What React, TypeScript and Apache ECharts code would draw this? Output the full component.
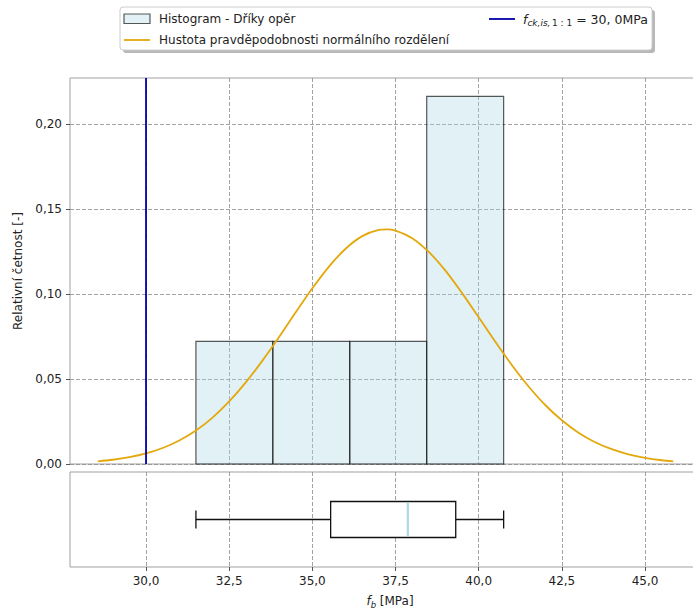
import React, { useEffect, useRef } from 'react';
import * as echarts from 'echarts';

// ---- data ----
const xTicks = [30, 32.5, 35, 37.5, 40, 42.5, 45];
const yTicks = [0, 0.05, 0.1, 0.15, 0.2];
const binEdges = [31.5, 33.8125, 36.125, 38.4375, 40.75];
const binHeights = [0.0721, 0.0721, 0.0721, 0.2162];
const curveX = [28.55, 29.0, 29.5, 30.0, 30.5, 31.0, 31.5, 32.0, 32.5, 33.0, 33.5, 34.0, 34.5, 35.0, 35.5, 36.0, 36.5, 37.0, 37.25, 37.5, 38.0, 38.5, 39.0, 39.5, 40.0, 40.5, 41.0, 41.5, 42.0, 42.5, 43.0, 43.5, 44.0, 44.5, 45.0, 45.5, 45.85];
const curveY = [0.0016, 0.0025, 0.0040, 0.0062, 0.0094, 0.0138, 0.0197, 0.0273, 0.0368, 0.0480, 0.0608, 0.0747, 0.0892, 0.1033, 0.1161, 0.1266, 0.1340, 0.1377, 0.1380, 0.1373, 0.1328, 0.1247, 0.1137, 0.1005, 0.0863, 0.0719, 0.0581, 0.0456, 0.0347, 0.0257, 0.0184, 0.0128, 0.0087, 0.0057, 0.0036, 0.0022, 0.0016];
const fckValue = 30.0;
const boxStats = [31.5, 35.55, 37.87, 39.31, 40.75]; // min, Q1, median, Q3, max

const X_MIN = 27.715;
const X_MAX = 46.953;
const Y_MAX = 0.227;

const FONT = 'DejaVu Sans';
const TXT = '#222';
const SPINE = '#a0a0a0';
const GRIDC = '#8a8a8a';
const fmtComma = (v: number, d: number) => v.toFixed(d).replace('.', ',');

export default function App() {
  const ref = useRef<HTMLDivElement>(null);
  useEffect(() => {
    if (!ref.current) return;
    const chart = echarts.init(ref.current, null, { renderer: 'svg' });
    const histData = binHeights.map((h, i) => [binEdges[i], binEdges[i + 1], h]);
    const curveData = curveX.map((x, i) => [x, curveY[i]]);

    const option: any = {
      animation: false,
      backgroundColor: '#fff',
      textStyle: { fontFamily: FONT },
      grid: [
        { left: 70, top: 78, width: 640, height: 386, outerBoundsMode: 'none', containLabel: false, show: true, borderColor: SPINE, borderWidth: 1, backgroundColor: 'transparent' },
        { left: 70, top: 472, width: 640, height: 95, outerBoundsMode: 'none', containLabel: false, show: true, borderColor: SPINE, borderWidth: 1, backgroundColor: 'transparent' },
      ],
      xAxis: [
        {
          type: 'value', gridIndex: 0, min: X_MIN, max: X_MAX,
          axisLine: { show: false },
          axisTick: { show: false, customValues: xTicks },
          axisLabel: { show: false, customValues: xTicks },
          splitLine: { show: true, lineStyle: { color: GRIDC, type: [4, 2], width: 0.8 } },
        },
        {
          type: 'value', gridIndex: 1, min: X_MIN, max: X_MAX,
          axisLine: { show: false },
          axisTick: { show: true, customValues: xTicks, length: 4, lineStyle: { color: '#555' } },
          axisLabel: { show: true, customValues: xTicks, margin: 8, color: TXT, fontSize: 12, fontFamily: FONT, formatter: (v: number) => fmtComma(v, 1) },
          splitLine: { show: true, lineStyle: { color: GRIDC, type: [4, 2], width: 0.8 } },
          name: '{i|f}{s|b} [MPa]',
          nameLocation: 'middle',
          nameGap: 26,
          nameTextStyle: {
            color: TXT, fontSize: 12, fontFamily: FONT,
            rich: {
              i: { fontStyle: 'italic', fontSize: 12, fontFamily: FONT, color: TXT },
              s: { fontStyle: 'italic', fontSize: 8.5, fontFamily: FONT, color: TXT, padding: [7, 0, 0, 0] },
            },
          },
        },
      ],
      yAxis: [
        {
          type: 'value', gridIndex: 0, min: 0, max: Y_MAX,
          axisLine: { show: false },
          axisTick: { show: true, customValues: yTicks, length: 4, lineStyle: { color: '#555' } },
          axisLabel: { show: true, customValues: yTicks, margin: 8, color: TXT, fontSize: 12, fontFamily: FONT, formatter: (v: number) => fmtComma(v, 2) },
          splitLine: { show: true, lineStyle: { color: GRIDC, type: [4, 2], width: 0.8 } },
          name: 'Relativní četnost [-]',
          nameLocation: 'middle',
          nameGap: 42,
          nameTextStyle: { color: TXT, fontSize: 12, fontFamily: FONT },
        },
        {
          type: 'value', gridIndex: 1, min: 0, max: 2,
          axisLine: { show: false }, axisTick: { show: false }, axisLabel: { show: false },
          splitLine: { show: false },
        },
      ],
      series: [
        {
          type: 'custom', name: 'hist', xAxisIndex: 0, yAxisIndex: 0,
          data: histData,
          encode: { x: [0, 1], y: 2 },
          renderItem: (params: any, api: any) => {
            const p0 = api.coord([api.value(0), 0]);
            const p1 = api.coord([api.value(1), api.value(2)]);
            return {
              type: 'rect',
              shape: { x: p0[0], y: p1[1], width: p1[0] - p0[0], height: p0[1] - p1[1] },
              style: { fill: 'rgba(173,216,230,0.35)', stroke: 'rgba(0,0,0,0.65)', lineWidth: 1.2 },
            };
          },
          z: 2,
        },
        {
          type: 'line', name: 'pdf', xAxisIndex: 0, yAxisIndex: 0,
          data: curveData, smooth: 0.3, showSymbol: false, symbol: 'none',
          lineStyle: { color: '#e3a80c', width: 1.8 },
          z: 3,
        },
        {
          type: 'line', name: 'fck', xAxisIndex: 0, yAxisIndex: 0,
          data: [[fckValue, 0], [fckValue, Y_MAX]], showSymbol: false, symbol: 'none',
          lineStyle: { color: '#0000a8', width: 1.8 },
          z: 3,
        },
        {
          type: 'custom', name: 'box', xAxisIndex: 1, yAxisIndex: 1,
          data: [boxStats],
          encode: { x: [0, 1, 2, 3, 4] },
          renderItem: (params: any, api: any) => {
            const c = api.coord([api.value(0), 1]);
            const yc = c[1];
            const xs = [0, 1, 2, 3, 4].map((k) => api.coord([api.value(k), 1])[0]);
            const hh = 18;
            const cap = 9;
            const ls = { stroke: '#111', lineWidth: 1.3, fill: null };
            return {
              type: 'group',
              children: [
                { type: 'line', shape: { x1: xs[0], y1: yc, x2: xs[1], y2: yc }, style: ls },
                { type: 'line', shape: { x1: xs[3], y1: yc, x2: xs[4], y2: yc }, style: ls },
                { type: 'line', shape: { x1: xs[0], y1: yc - cap, x2: xs[0], y2: yc + cap }, style: ls },
                { type: 'line', shape: { x1: xs[4], y1: yc - cap, x2: xs[4], y2: yc + cap }, style: ls },
                { type: 'rect', shape: { x: xs[1], y: yc - hh, width: xs[3] - xs[1], height: 2 * hh }, style: { stroke: '#111', lineWidth: 1.3, fill: '#fff' } },
                { type: 'line', shape: { x1: xs[2], y1: yc - hh + 1, x2: xs[2], y2: yc + hh - 1 }, style: { stroke: '#add8e6', lineWidth: 2.2 } },
              ],
            };
          },
          z: 2,
        },
      ],
      graphic: [
        { type: 'rect', shape: { x: 123, y: 10, width: 532, height: 43, r: 3 }, style: { fill: '#b8b8b8' }, z: 10 },
        { type: 'rect', shape: { x: 120, y: 7, width: 532, height: 43, r: 3 }, style: { fill: '#fff', stroke: '#cccccc', lineWidth: 1 }, z: 11 },
        { type: 'rect', shape: { x: 124, y: 14, width: 26, height: 9.5 }, style: { fill: 'rgba(173,216,230,0.35)', stroke: 'rgba(0,0,0,0.65)', lineWidth: 1.2 }, z: 12 },
        { type: 'text', x: 159, y: 19, style: { text: 'Histogram - Dříky opěr', fill: TXT, font: `12px "${FONT}"`, verticalAlign: 'middle', align: 'left' }, z: 12 },
        { type: 'line', shape: { x1: 124, y1: 40, x2: 150, y2: 40 }, style: { stroke: '#e3a80c', lineWidth: 1.8 }, z: 12 },
        { type: 'text', x: 159, y: 40, style: { text: 'Hustota pravděpodobnosti normálního rozdělení', fill: TXT, font: `12px "${FONT}"`, verticalAlign: 'middle', align: 'left' }, z: 12 },
        { type: 'line', shape: { x1: 489, y1: 19, x2: 515, y2: 19 }, style: { stroke: '#0000a8', lineWidth: 1.8 }, z: 12 },
        {
          type: 'text', x: 523, y: 19,
          style: {
            text: '{f|f}{s|ck,is,}{r|1 : 1}{n| = 30, 0MPa}',
            verticalAlign: 'middle', align: 'left', fill: TXT,
            rich: {
              f: { fontStyle: 'italic', fontSize: 12.5, fontFamily: FONT, fill: TXT },
              s: { fontStyle: 'italic', fontSize: 9, fontFamily: FONT, fill: TXT, padding: [7, 0, 0, 0] },
              r: { fontSize: 9, fontFamily: FONT, fill: TXT, padding: [7, 0, 0, 1.5] },
              n: { fontSize: 12.5, fontFamily: FONT, fill: TXT },
            },
          },
          z: 12,
        },
      ],
    };
    chart.setOption(option);
    return () => chart.dispose();
  }, []);
  return <div ref={ref} style={{ position: 'absolute', left: 0, top: 0, width: 693, height: 610, overflow: 'hidden' }} />;
}
